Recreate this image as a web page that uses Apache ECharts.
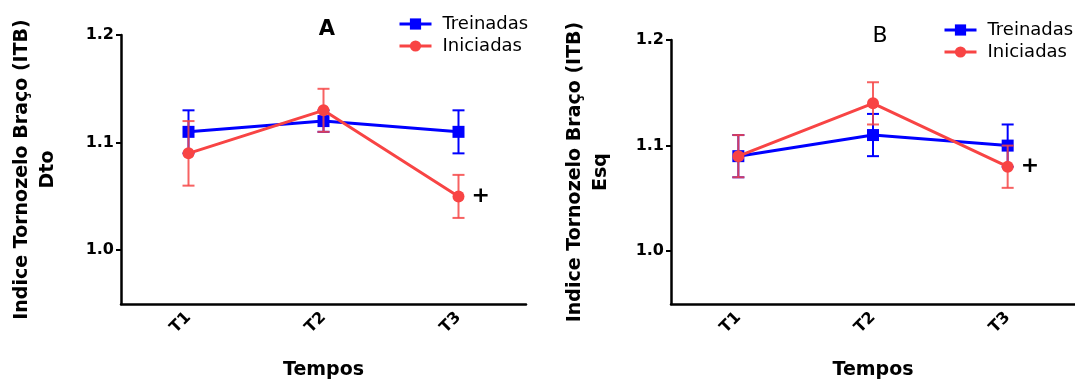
<!DOCTYPE html>
<html>
<head>
<meta charset="utf-8">
<script src="https://cdn.jsdelivr.net/npm/echarts@6/dist/echarts.min.js"></script>
<style>
  html, body { margin: 0; padding: 0; background: #fff; }
  #chart { width: 1075px; height: 385px; }
</style>
</head>
<body>
<div id="chart"></div>
<script>
// Ankle-brachial index (ITB) over three time points, right (A) and left (B) side
const categories = ['T1', 'T2', 'T3'];
const yTicks = [1.0, 1.1, 1.2];

// Panel A — right side (Dto)
const treinadasA = [1.11, 1.12, 1.11];
const treinadasAErr = [0.02, 0.01, 0.02];
const iniciadasA = [1.09, 1.13, 1.05];
const iniciadasAErr = [0.03, 0.02, 0.02];

// Panel B — left side (Esq)
const treinadasB = [1.09, 1.11, 1.10];
const treinadasBErr = [0.02, 0.02, 0.02];
const iniciadasB = [1.09, 1.14, 1.08];
const iniciadasBErr = [0.02, 0.02, 0.02];

// Significance mark placed next to T3 of Iniciadas
const markIndex = 2;
const markText = '+';

const BLUE = '#0000FF';
const RED = '#F84444';
const RED_ERR = 'rgba(246, 70, 70, 0.85)';
const FONT = 'DejaVu Sans';

function errorSeries(name, values, errs, color, axisIndex, z) {
  return {
    name: name + ' (erro)',
    type: 'custom',
    xAxisIndex: axisIndex,
    yAxisIndex: axisIndex,
    z: z,
    silent: true,
    data: values.map((v, i) => [i, v - errs[i], v + errs[i]]),
    renderItem: function (params, api) {
      const lo = api.coord([api.value(0), api.value(1)]);
      const hi = api.coord([api.value(0), api.value(2)]);
      const cap = 6;
      const style = { stroke: color, lineWidth: 2, fill: null };
      return {
        type: 'group',
        children: [
          { type: 'line', shape: { x1: hi[0], y1: hi[1], x2: lo[0], y2: lo[1] }, style: style },
          { type: 'line', shape: { x1: hi[0] - cap, y1: hi[1], x2: hi[0] + cap, y2: hi[1] }, style: style },
          { type: 'line', shape: { x1: lo[0] - cap, y1: lo[1], x2: lo[0] + cap, y2: lo[1] }, style: style }
        ]
      };
    }
  };
}

function lineSeries(name, values, color, symbol, axisIndex, z, withMark) {
  return {
    name: name,
    type: 'line',
    xAxisIndex: axisIndex,
    yAxisIndex: axisIndex,
    z: z,
    symbol: symbol,
    symbolSize: 12,
    showAllSymbol: true,
    lineStyle: { color: color, width: 3 },
    itemStyle: { color: color },
    emphasis: { disabled: true },
    data: values.map((v, i) => {
      if (withMark && i === markIndex) {
        return {
          value: v,
          label: {
            show: true, position: 'right', distance: 7, formatter: markText,
            color: '#000', fontFamily: FONT, fontWeight: 'bold', fontSize: 22
          }
        };
      }
      return v;
    })
  };
}

function xAxis(gridIndex) {
  return {
    type: 'category',
    gridIndex: gridIndex,
    data: categories,
    boundaryGap: true,
    name: 'Tempos',
    nameLocation: 'middle',
    nameGap: 57,
    nameTextStyle: { fontFamily: FONT, fontWeight: 'bold', fontSize: 19, color: '#000' },
    axisLine: { lineStyle: { color: '#000', width: 2.5 } },
    axisTick: { alignWithLabel: true, length: 6, lineStyle: { color: '#000', width: 2 } },
    axisLabel: { rotate: 45, margin: 11, fontFamily: FONT, fontWeight: 'bold', fontSize: 16, color: '#000' },
    splitLine: { show: false }
  };
}

function yAxis(gridIndex, name, gap) {
  return {
    type: 'value',
    gridIndex: gridIndex,
    min: 0.95,
    max: 1.2,
    name: name,
    nameLocation: 'middle',
    nameRotate: 90,
    nameGap: gap,
    nameTextStyle: { fontFamily: FONT, fontWeight: 'bold', fontSize: 19, color: '#000', lineHeight: 26 },
    axisLine: { show: true, lineStyle: { color: '#000', width: 2.5 } },
    axisTick: { show: true, length: 5, customValues: yTicks, lineStyle: { color: '#000', width: 2 } },
    axisLabel: {
      customValues: yTicks, margin: 7, fontFamily: FONT, fontWeight: 'bold', fontSize: 16, color: '#000',
      formatter: v => v.toFixed(1)
    },
    splitLine: { show: false }
  };
}

function legend(left, top) {
  return {
    left: left,
    top: top,
    orient: 'vertical',
    itemWidth: 32,
    itemHeight: 14,
    itemGap: 4,
    lineStyle: { width: 3 },
    textStyle: { fontFamily: FONT, fontSize: 18, color: '#000', padding: [0, 0, 0, 6] },
    data: ['Treinadas', 'Iniciadas']
  };
}

const chart = echarts.init(document.getElementById('chart'), null, { renderer: 'canvas' });
chart.setOption({
  animation: false,
  backgroundColor: '#fff',
  title: [
    { text: 'A', left: 322, top: 14, textAlign: 'center',
      textStyle: { fontFamily: FONT, fontWeight: 'bold', fontSize: 21, color: '#000' } },
    { text: 'B', left: 875, top: 20, textAlign: 'center',
      textStyle: { fontFamily: FONT, fontWeight: 'normal', fontSize: 22, color: '#000' } }
  ],
  legend: [legend(393, 10), legend(938, 16)],
  grid: [
    { left: 121, top: 35, width: 405, height: 271 },
    { left: 671, top: 40, width: 405, height: 267 }
  ],
  xAxis: [xAxis(0), xAxis(1)],
  yAxis: [
    yAxis(0, 'Indice Tornozelo Braço (ITB)\nDto', 60),
    yAxis(1, 'Indice Tornozelo Braço (ITB)\nEsq', 57)
  ],
  series: [
    errorSeries('Treinadas', treinadasA, treinadasAErr, BLUE, 0, 2),
    lineSeries('Treinadas', treinadasA, BLUE, 'rect', 0, 3, false),
    errorSeries('Iniciadas', iniciadasA, iniciadasAErr, RED_ERR, 0, 4),
    lineSeries('Iniciadas', iniciadasA, RED, 'circle', 0, 5, true),

    errorSeries('Treinadas', treinadasB, treinadasBErr, BLUE, 1, 2),
    lineSeries('Treinadas', treinadasB, BLUE, 'rect', 1, 3, false),
    errorSeries('Iniciadas', iniciadasB, iniciadasBErr, RED_ERR, 1, 4),
    lineSeries('Iniciadas', iniciadasB, RED, 'circle', 1, 5, true)
  ]
});
</script>
</body>
</html>
